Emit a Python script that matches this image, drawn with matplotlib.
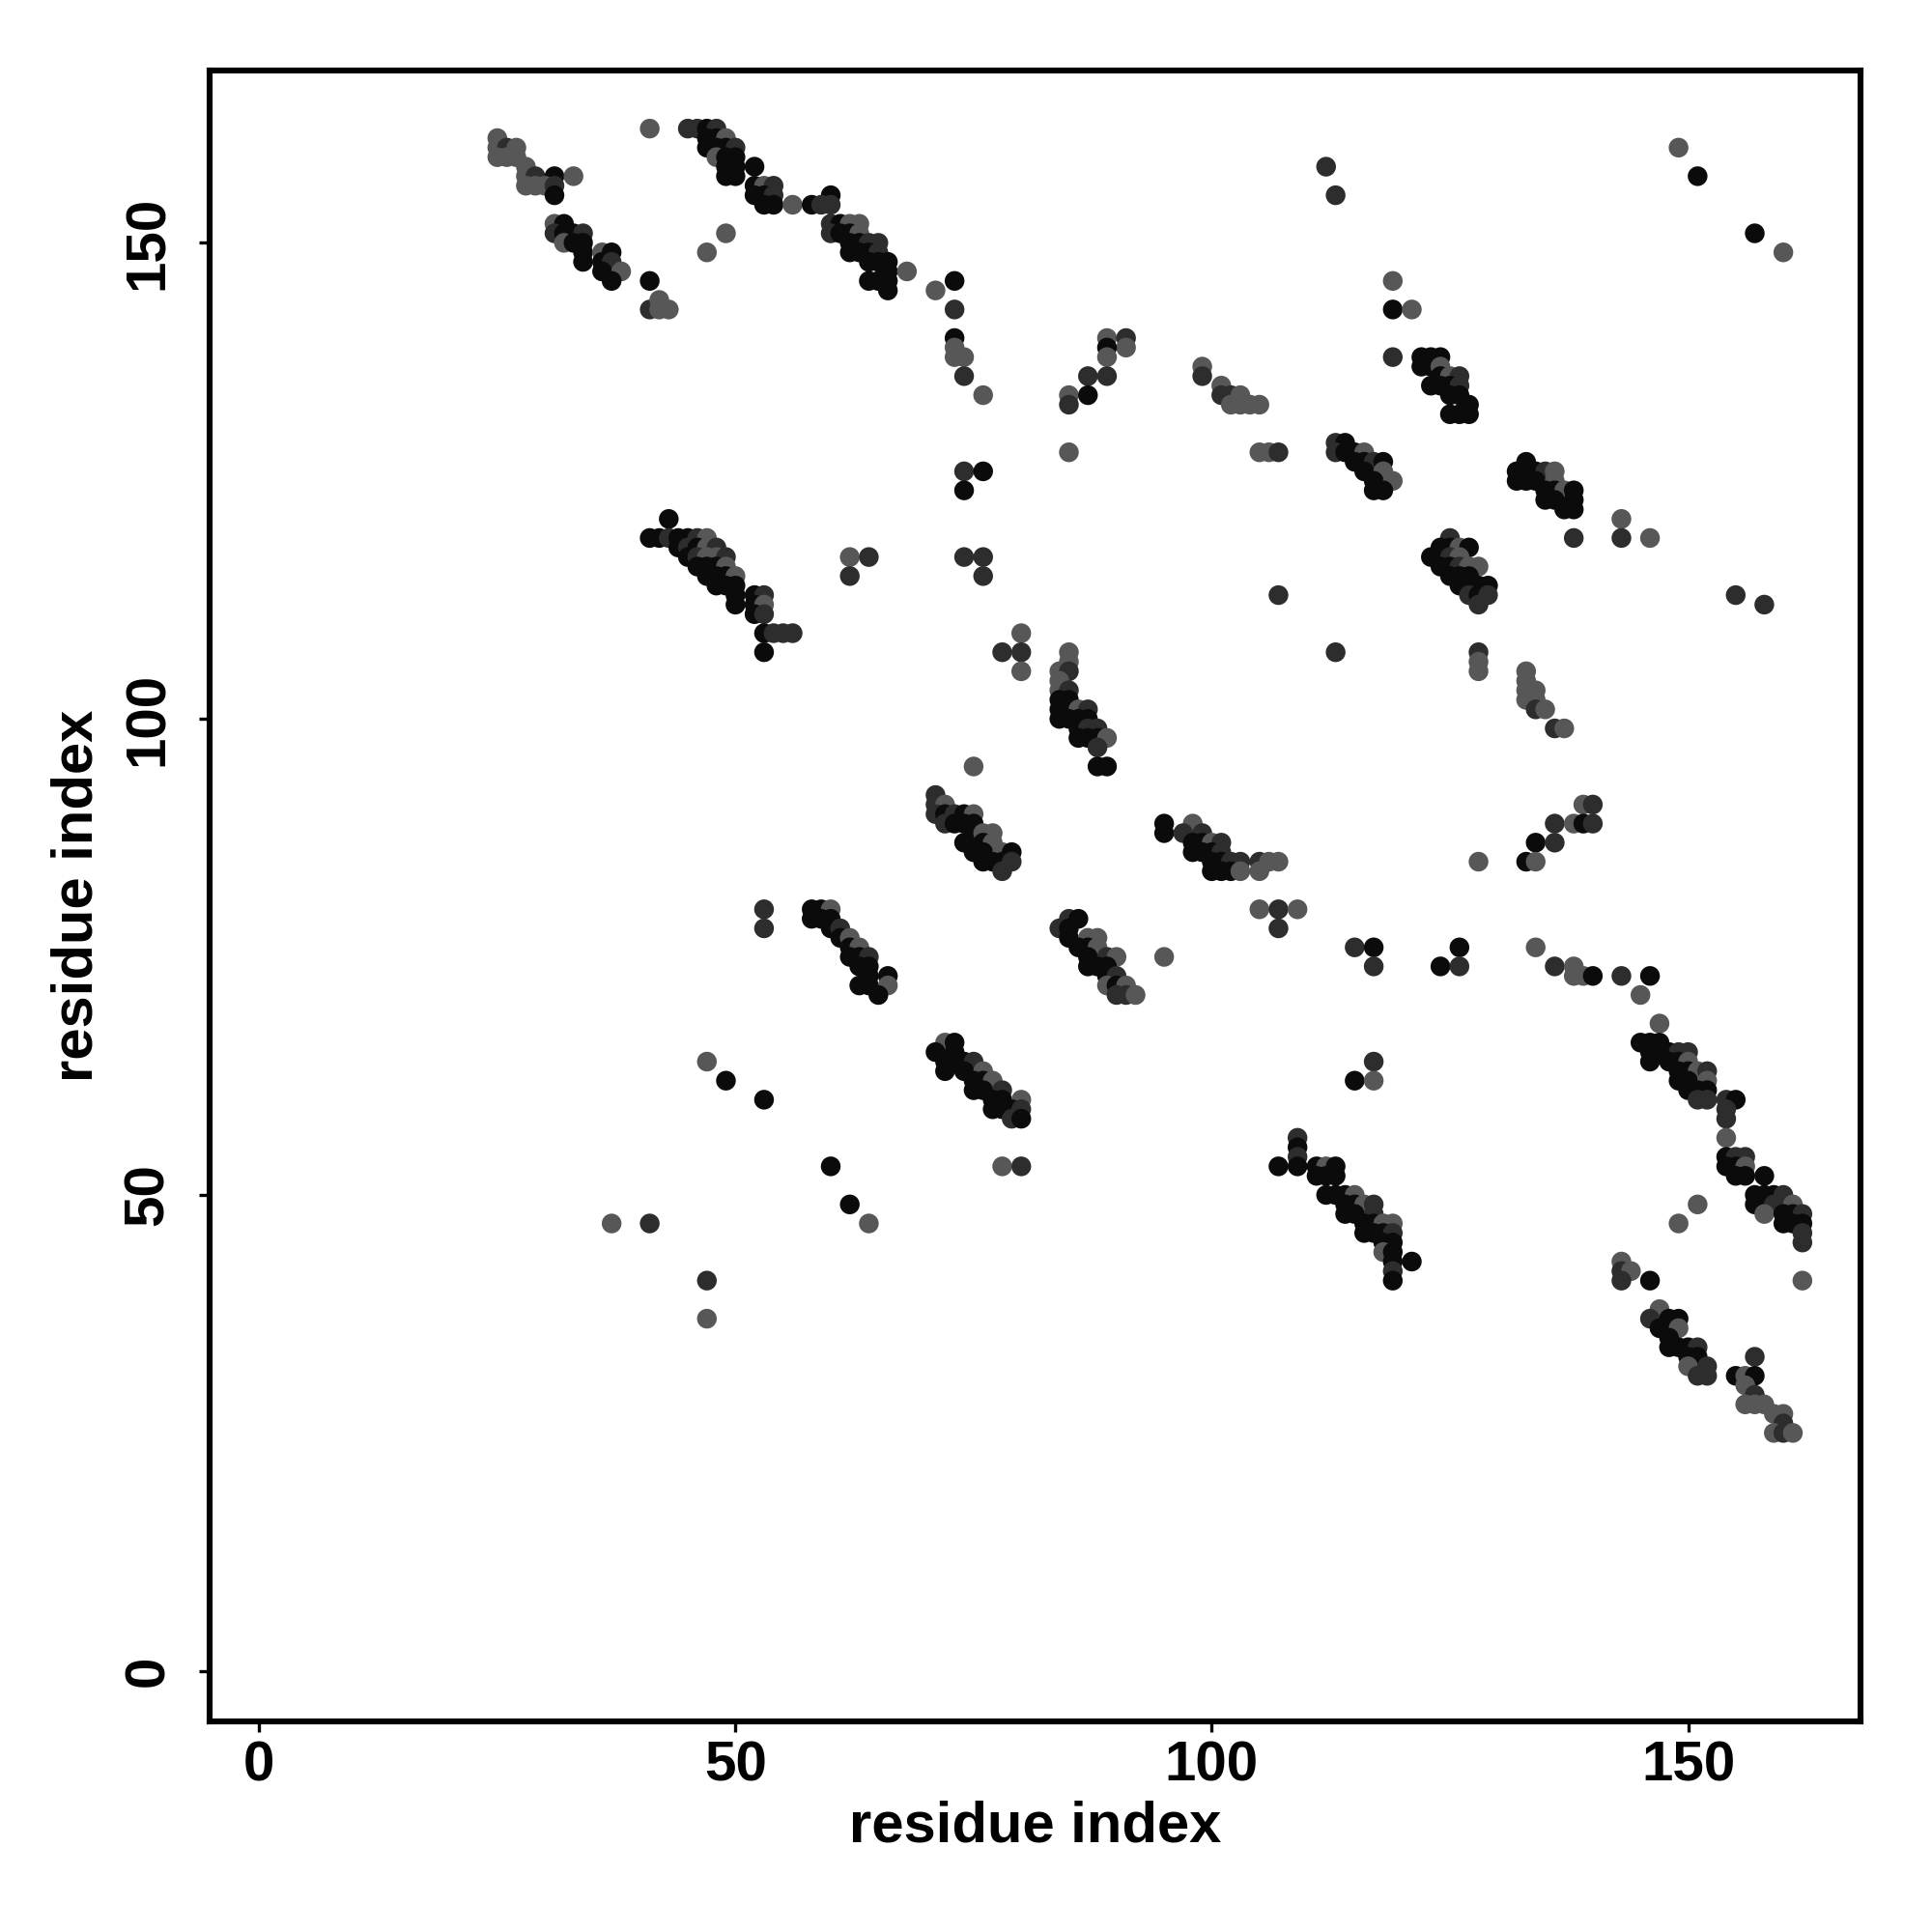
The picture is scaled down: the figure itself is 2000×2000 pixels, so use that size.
import matplotlib
matplotlib.use("Agg")
import matplotlib.pyplot as plt

plt.rcParams['font.family'] = ['Liberation Sans', 'DejaVu Sans']
plt.rcParams['font.weight'] = 'bold'

# (residue i, residue j, shade level 0=black 1=dark grey 2=grey)
cluster_a = [(25,161,2),(25,160,2),(26,160,1),(27,160,2),(25,159,2),(26,159,2),(27,159,2),
             (28,158,2),(28,157,2),(29,157,1),(31,157,0),(33,157,2),(28,156,2),(29,156,2),
             (30,156,2),(31,156,1),(31,155,0),(31,152,2),(32,152,0),(31,151,1),(32,151,0),
             (33,151,0),(34,151,1),(32,150,2),(33,150,0),(34,150,0),(34,149,0),(36,149,2),
             (37,149,0),(34,148,0),(36,148,0),(37,148,1),(36,147,0),(38,147,2),(37,146,0)]
singles_a = [(41,162,2),(49,151,2),(47,149,2),(41,146,0),(41,143,1),(42,144,2),(42,143,2),(43,143,2)]
cluster_b = [(45,162,1),(46,162,1),(47,162,0),(48,162,1),(47,161,0),(48,161,0),(49,161,2),
             (47,160,0),(48,160,0),(49,160,0),(50,160,1),(48,159,2),(49,159,0),(50,159,0),
             (49,158,0),(50,158,0),(52,158,0),(49,157,0),(50,157,0),(52,156,0),(53,156,2),
             (54,156,1),(52,155,0),(53,155,0),(54,155,1),(53,154,0),(54,154,0),(56,154,2),(58,154,0)]
cluster_c = [(60,155,0),(59,154,1),(60,154,1),(60,152,1),(61,152,0),(62,152,2),(63,152,2),
             (60,151,1),(61,151,0),(62,151,0),(63,151,2),(62,150,0),(63,150,0),(64,150,1),
             (65,150,1),(62,149,0),(63,149,0),(64,149,0),(65,149,1),(64,148,0),(65,148,0),
             (66,148,0),(66,147,0),(68,147,2),(64,146,0),(65,146,0),(66,146,0),(66,145,0)]
singles_b = [(71,145,2),(73,146,0),(73,143,1),(73,140,0),(73,139,2),(74,138,2),(73,138,2),
             (74,136,1),(76,134,2),(74,126,1),(76,126,0),(74,124,0),
             (89,140,2),(91,140,1),(91,139,2),(89,139,0),(89,138,2),(87,136,1),(89,136,1),
             (85,134,2),(87,134,0),(85,133,1),(85,128,2)]
singles_c = [(112,158,1),(113,155,1),(119,146,2),(119,143,0),(121,143,2),(119,138,1),
             (143,121,2),(138,119,1),(143,119,1),(146,119,2),(149,160,2),(151,157,0),
             (157,151,0),(160,149,2)]
cluster_d = [(122,138,0),(123,138,0),(124,138,0),(122,137,0),(123,137,0),(124,137,2),
             (124,136,0),(125,136,2),(126,136,1),(123,135,0),(124,135,0),(125,135,0),
             (126,135,1),(125,134,0),(126,134,0),(127,133,0),(125,132,0),(126,132,0),(127,132,0)]
cluster_e = [(99,137,2),(99,136,1),(101,135,2),(101,134,1),(102,134,1),(103,134,2),(102,133,2),
             (103,133,2),(104,133,2),(105,133,2),(105,128,2),(106,128,2),(107,128,1)]
cluster_f = [(113,129,1),(114,129,0),(113,128,1),(114,128,0),(115,128,0),(116,128,2),
             (115,127,0),(116,127,0),(117,127,1),(118,127,0),(116,126,0),(118,126,2),
             (117,125,0),(119,125,2),(117,124,0),(118,124,0)]
cluster_v = [(125,119,1),(124,118,0),(125,118,0),(126,118,2),(127,118,0),(123,117,0),
             (124,117,0),(125,117,1),(126,117,2),(124,116,0),(125,116,0),(126,116,1),
             (127,116,2),(128,116,2),(125,115,0),(126,115,0),(127,115,0),(126,114,0),
             (127,114,0),(128,114,0),(129,114,0),(127,113,1),(128,113,0),(129,113,1),(128,112,1)]
cluster_g = [(133,127,0),(132,126,0),(133,126,0),(134,126,0),(135,126,1),(136,126,2),
             (132,125,0),(133,125,0),(134,125,0),(136,125,2),(135,124,0),(136,124,0),
             (137,124,2),(138,124,0),(135,123,0),(136,123,0),(138,123,0),(137,122,0),(138,122,0)]
cluster_w = [(43,121,0),(41,119,0),(42,119,0),(43,119,1),(44,119,0),(45,119,0),(46,119,1),
             (47,119,2),(44,118,0),(45,118,1),(46,118,0),(47,118,2),(48,118,1),(45,117,0),
             (46,117,1),(47,117,2),(48,117,2),(49,117,1),(46,116,0),(47,116,0),(48,116,0),
             (49,116,2),(47,115,0),(48,115,0),(49,115,0),(50,115,2),(48,114,0),(49,114,0),
             (50,114,0),(50,113,0),(52,113,0),(53,113,1),(50,112,0),(52,112,0),(53,112,2),
             (52,111,0),(53,111,1),(53,109,0),(54,109,1),(55,109,1),(56,109,1),(53,107,0)]
singles_d = [(62,117,2),(64,117,1),(62,115,1),(74,117,1),(76,117,1),(76,115,1),(80,109,2),
             (78,107,1),(80,107,1),(80,105,2),(75,95,2),(53,80,1),(53,78,1)]
cluster_h = [(85,107,2),(85,106,2),(84,105,2),(85,105,1),(84,104,2),(84,103,2),(85,103,1),
             (84,102,0),(85,102,0),(84,101,0),(85,101,0),(86,101,2),(87,101,1),(84,100,0),
             (85,100,0),(86,100,0),(87,100,0),(86,99,0),(87,99,1),(88,99,1),(86,98,0),
             (87,98,0),(88,98,0),(89,98,2),(88,97,1),(88,95,0),(89,95,0)]
cluster_i = [(71,92,1),(71,91,1),(72,91,2),(71,90,1),(72,90,0),(73,90,1),(74,90,0),(75,90,2),
             (72,89,1),(73,89,0),(74,89,0),(75,89,0),(75,88,0),(76,88,2),(77,88,2),(74,87,0),
             (76,87,0),(77,87,2),(75,86,0),(76,86,0),(78,86,2),(79,86,0),(76,85,0),(77,85,0),
             (78,85,0),(79,85,1),(78,84,1)]
cluster_j = [(58,80,0),(59,80,0),(60,80,2),(58,79,0),(59,79,0),(60,79,0),(60,78,0),(61,78,1),
             (61,77,0),(62,77,2),(62,76,0),(63,76,2),(62,75,0),(63,75,0),(64,75,1),(63,74,0),
             (64,74,0),(64,73,0),(66,73,0),(63,72,0),(64,72,0),(66,72,2),(65,71,0)]
cluster_k = [(85,79,1),(86,79,0),(84,78,1),(85,78,0),(85,77,0),(87,77,2),(88,77,2),(86,76,0),
             (87,76,0),(88,76,2),(87,75,0),(89,75,1),(90,75,2),(87,74,0),(88,74,0),(89,74,0),
             (89,73,0),(90,73,1),(89,72,2),(90,72,0),(91,72,2),(90,71,1),(91,71,1),(92,71,2)]
cluster_l = [(95,89,0),(98,89,2),(95,88,0),(97,88,1),(99,88,1),(98,87,0),(99,87,0),(100,87,2),
             (101,87,1),(98,86,0),(99,86,0),(100,86,0),(101,86,1),(100,85,0),(101,85,0),
             (102,85,1),(103,85,1),(105,85,1),(106,85,2),(107,85,2),(100,84,0),(101,84,0),
             (102,84,0),(103,84,2),(105,84,2)]
singles_e = [(105,80,2),(107,80,1),(109,80,2),(107,78,1),(95,75,2),(115,76,1),(117,76,0),
             (117,74,1),(126,76,0),(124,74,0),(126,74,1),(128,85,2),(107,113,1),(113,107,1),
             (128,107,1),(128,106,2),(128,105,2),(155,113,1),(158,112,1)]
cluster_m = [(133,105,2),(133,104,2),(133,103,2),(134,103,2),(133,102,2),(134,102,2),
             (134,101,1),(135,101,2),(136,99,1),(137,99,2)]
cluster_n = [(139,91,2),(140,91,1),(136,89,1),(138,89,2),(139,89,0),(140,89,1),(134,87,0),
             (136,87,1),(133,85,0),(134,85,2)]
singles_f = [(134,76,2),(136,74,1),(138,74,2),(138,73,2),(139,73,2),(140,73,0),(143,73,1),
             (146,73,0),(145,71,2),(147,68,2)]
cluster_o = [(145,66,0),(146,66,0),(147,66,0),(146,65,0),(147,65,0),(148,65,0),(149,65,1),
             (150,65,1),(146,64,0),(148,64,0),(149,64,0),(150,64,2),(149,63,0),(150,63,0),
             (151,63,2),(152,63,1),(149,62,0),(150,62,0),(152,62,2),(150,61,0),(151,61,0),
             (152,61,0),(151,60,1),(152,60,1)]
cluster_p = [(154,60,1),(155,60,0),(154,59,1),(154,58,1),(154,56,2)]
cluster_q = [(154,54,0),(155,54,1),(156,54,1),(154,53,0),(155,53,0),(156,53,2),(155,52,0),
             (156,52,0),(158,52,0),(157,50,0),(158,50,0),(159,50,0),(160,50,1),(157,49,0),
             (158,49,0),(159,49,1),(161,49,2),(158,48,2),(160,48,0),(161,48,0),(162,48,1),
             (160,47,0),(161,47,0),(162,47,0),(162,46,1),(162,45,1)]
singles_g = [(151,49,2),(149,47,2),(162,41,2),(143,43,2),(143,42,1),(144,42,2),(143,41,1),(146,41,0)]
cluster_r = [(147,38,2),(146,37,1),(148,37,0),(149,37,0),(147,36,0),(148,36,0),(149,36,2),
             (148,35,0),(148,34,0),(149,34,0),(150,34,0),(151,34,1),(150,33,0),(151,33,0),
             (150,32,2),(152,32,1),(151,31,1),(152,31,1)]
cluster_s = [(157,33,1),(155,31,0),(156,31,2),(157,31,0),(156,30,2),(157,29,1),(156,28,2),
             (157,28,2),(158,28,2),(159,27,2),(160,27,2),(160,26,1),(159,25,2),(160,25,1),(161,25,2)]
cluster_t = [(109,56,1),(109,55,0),(109,54,1),(107,53,0),(109,53,0),(111,53,0),(112,53,2),
             (113,53,0),(111,52,0),(112,52,0),(113,52,0),(112,50,0),(113,50,0),(114,50,0),
             (115,50,2),(114,49,0),(115,49,0),(116,49,2),(117,49,1),(114,48,0),(115,48,0),
             (117,48,1),(116,47,0),(117,47,0),(118,47,2),(119,47,2),(116,46,0),(117,46,0),
             (118,46,0),(119,46,1),(118,45,0),(119,45,0),(118,44,2),(119,44,0),(119,43,0),
             (121,43,0),(119,42,1),(119,41,0)]
singles_h = [(117,64,1),(115,62,0),(117,62,2),(47,64,2),(49,62,0),(53,60,0),(37,47,2),
             (41,47,1),(47,41,1),(47,37,2),(60,53,0),(62,49,0),(64,47,2),(78,53,2),(80,53,1)]
cluster_u = [(72,66,2),(73,66,0),(71,65,0),(73,65,0),(72,64,0),(73,64,0),(74,64,0),(75,64,1),
             (72,63,0),(74,63,0),(76,63,2),(75,62,0),(76,62,0),(77,62,2),(75,61,0),(76,61,0),
             (78,61,1),(77,60,0),(78,60,0),(80,60,2),(77,59,0),(78,59,0),(79,59,0),(80,59,1),
             (79,58,1),(80,58,0)]

clusters = [cluster_a, singles_a, cluster_b, cluster_c, singles_b, singles_c, cluster_d,
            cluster_e, cluster_f, cluster_v, cluster_g, cluster_w, singles_d, cluster_h,
            cluster_i, cluster_j, cluster_k, cluster_l, singles_e, cluster_m, cluster_n,
            singles_f, cluster_o, cluster_p, cluster_q, singles_g, cluster_r, cluster_s,
            cluster_t, singles_h, cluster_u]

shade_colors = {0: '#0b0b0b', 1: '#2d2d2d', 2: '#575757'}

xs = [p[0] for cl in clusters for p in cl]
ys = [p[1] for cl in clusters for p in cl]
cs = [shade_colors[p[2]] for cl in clusters for p in cl]

fig = plt.figure(figsize=(10, 10), dpi=200)
ax = fig.add_axes([0.1085, 0.109, 0.8545, 0.8545])
ax.scatter(xs, ys, s=54, c=cs, linewidths=0)

ax.set_xlim(-5.2, 168.1)
ax.set_ylim(-5.3, 168.1)
ax.set_xticks([0, 50, 100, 150])
ax.set_yticks([0, 50, 100, 150])
for sp in ax.spines.values():
    sp.set_linewidth(2.2)
ax.tick_params(length=4, width=1.2, labelsize=21, pad=3)
ax.tick_params(axis='y', pad=9)
for lab in ax.get_yticklabels():
    lab.set_rotation(90)
    lab.set_va('center')

ax.set_xlabel('residue index', fontsize=21.5, fontweight='bold', labelpad=3)
ax.set_ylabel('residue index', fontsize=21.5, fontweight='bold', labelpad=7)

fig.savefig('out.png', dpi=200, facecolor='white')
